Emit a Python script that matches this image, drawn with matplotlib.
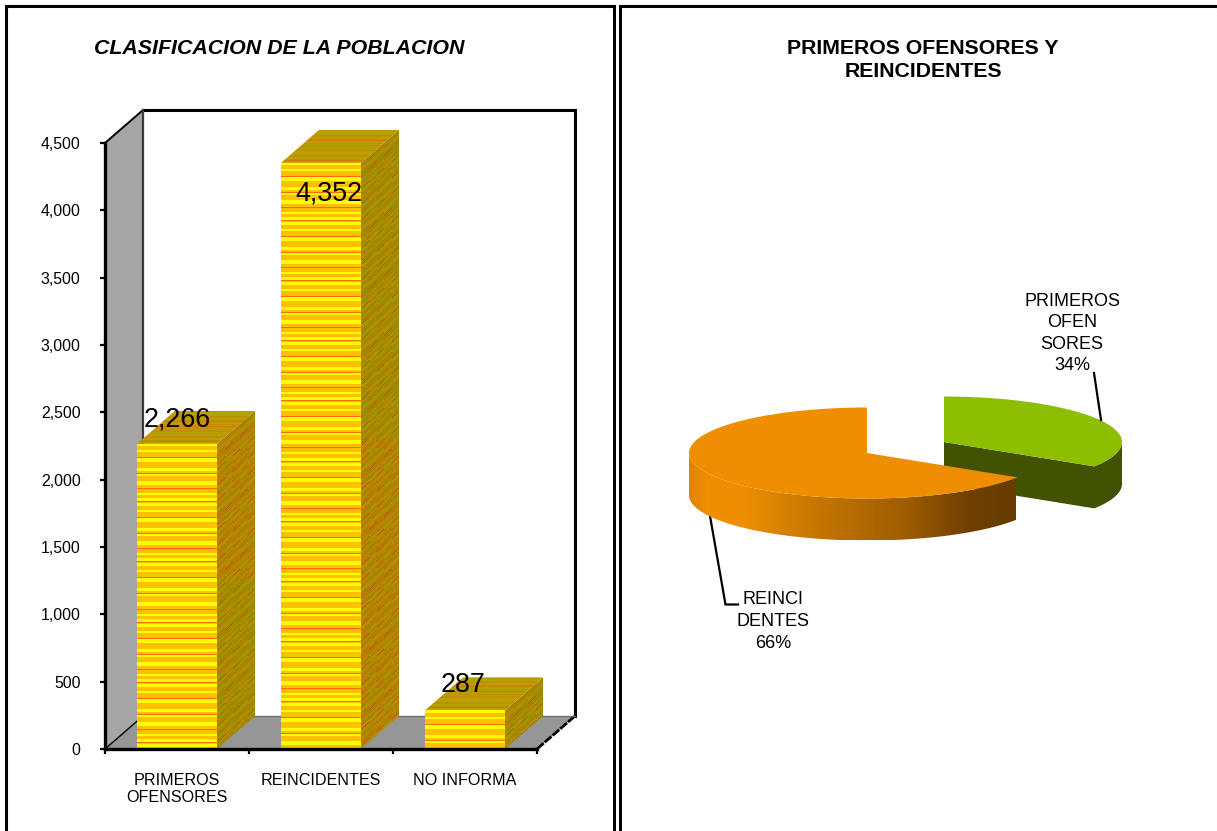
#!/usr/bin/env python3
"""Two panel chart: 3D look bars of the population and an exploded 3D look pie."""

import matplotlib

matplotlib.use("Agg")

import matplotlib.pyplot as plt
import numpy as np
from matplotlib.colors import to_rgb
from matplotlib.patches import Polygon
from matplotlib.ticker import StrMethodFormatter

CATEGORIES = ["PRIMEROS\nOFENSORES", "REINCIDENTES", "NO INFORMA"]
VALUES = [2266, 4352, 287]
Y_TICKS = [0, 500, 1000, 1500, 2000, 2500, 3000, 3500, 4000, 4500]
BAR_TITLE = "CLASIFICACION DE LA POBLACION"

PIE_TITLE = "PRIMEROS OFENSORES Y\nREINCIDENTES"
PIE_LABELS = ["PRIMEROS\nOFEN\nSORES\n34%", "REINCI\nDENTES\n66%"]
PIE_SHARES = [34, 66]

W, H = 1217, 831
FONT = "Liberation Sans"

# bar panel geometry, in pixels of the figure
PLOT_L, PLOT_R, PLOT_T, PLOT_B = 105, 537, 143, 749
DEPTH_PX = (38, 33)
BAR_WIDTH = 0.556

# pie geometry, in pixels of the figure
PIE_RX, PIE_RY, PIE_DEPTH = 178, 45.5, 42
PIE_CENTERS = [(944, 442), (867, 453)]

BAND_PATTERN = "YYYOOOOYYOOOOORYYYYOOOOOOYYYOORYYOOOOOYYYYOOOROOOOYYOOOYYYRO"
FRONT_COLORS = {"Y": "#ffff00", "O": "#ffc000", "R": "#ff6a00"}
TOP_COLORS = {"Y": "#c09000", "O": "#b8a000", "R": "#d07800"}
SIDE_COLORS = {"Y": "#b09400", "O": "#b07800", "R": "#c05000"}
ORANGE_STOPS = [(689, "#dd8300"), (705, "#ee8e00"), (745, "#ee8e00"), (803, "#cc7a00"),
                (903, "#a05e00"), (970, "#703f00"), (1016, "#663c00")]


def band_rgb(palette, index):
    return np.array([to_rgb(palette[BAND_PATTERN[i % len(BAND_PATTERN)]]) for i in index])


def textured(ax, image, extent, verts):
    im = ax.imshow(image, extent=extent, aspect="auto", interpolation="nearest", zorder=3)
    clip = Polygon(verts, closed=True, transform=ax.transData, fill=False, edgecolor="none",
                   clip_on=False)
    ax.add_patch(clip)
    im.set_clip_path(clip)
    im.set_clip_box(ax.figure.bbox)


def draw_bar(ax, x, value, dx, dy, px_per_value):
    left, right = x - BAR_WIDTH / 2, x + BAR_WIDTH / 2
    rows = max(int(round(value * px_per_value)), 1)
    side_rows = int(round((value + dy) * px_per_value))

    # front face
    front = band_rgb(FRONT_COLORS, np.arange(rows))[:, None, :]
    textured(ax, front, (left, right, 0, value),
             [(left, 0), (right, 0), (right, value), (left, value)])

    # top face
    top = band_rgb(TOP_COLORS, np.arange(DEPTH_PX[1]) * 3)[:, None, :]
    textured(ax, top, (left, right + dx, value, value + dy),
             [(left, value), (right, value), (right + dx, value + dy), (left + dx, value + dy)])

    # side face, bands sheared along the depth and dithered
    cols = np.arange(DEPTH_PX[0])
    yy, xx = np.meshgrid(np.arange(side_rows), cols, indexing="ij")
    sheared = (yy + xx * DEPTH_PX[1] // DEPTH_PX[0]).ravel()
    side = band_rgb(SIDE_COLORS, sheared).reshape(side_rows, DEPTH_PX[0], 3)
    side[(yy + xx) % 2 == 0] = to_rgb("#a88c00")
    textured(ax, side, (right, right + dx, 0, value + dy),
             [(right, 0), (right + dx, dy), (right + dx, value + dy), (right, value)])


def plot_bars(fig):
    ax = fig.add_axes([PLOT_L / W, 1 - PLOT_B / H, (PLOT_R - PLOT_L) / W, (PLOT_B - PLOT_T) / H])
    ax.patch.set_alpha(0)
    xlim = (-0.5, len(CATEGORIES) - 0.5)
    ylim = (0, Y_TICKS[-1])
    px_per_value = (PLOT_B - PLOT_T) / Y_TICKS[-1]
    dx = DEPTH_PX[0] / ((PLOT_R - PLOT_L) / len(CATEGORIES))
    dy = DEPTH_PX[1] / px_per_value
    x0, x1, y1 = xlim[0], xlim[1], ylim[1]

    # side wall and floor
    ax.add_patch(Polygon([(x0, 0), (x0 + dx, dy), (x0 + dx, y1 + dy), (x0, y1)],
                         facecolor="#a6a6a6", edgecolor="none", zorder=1, clip_on=False))
    ax.add_patch(Polygon([(x0, 0), (x1, 0), (x1 + dx, dy), (x0 + dx, dy)],
                         facecolor="#969696", edgecolor="none", zorder=1, clip_on=False))
    ax.plot([x0 + dx, x1 + dx, x1 + dx], [y1 + dy, y1 + dy, dy], color="black",
            lw=2.2, zorder=2, clip_on=False, solid_joinstyle="miter")
    ax.plot([x0, x0 + dx], [y1, y1 + dy], color="black", lw=1.4, zorder=2, clip_on=False)
    ax.plot([x0 + dx, x0 + dx], [y1 + dy, dy], color="#3c3c3c", lw=1.6, zorder=2, clip_on=False)
    ax.plot([x0, x0 + dx], [0, dy], color="black", lw=1.0, zorder=2, clip_on=False)
    ax.plot([x1, x1 + dx], [0, dy], color="black", lw=2.0, ls=(0, (3.2, 0.5)), zorder=2, clip_on=False)
    ax.plot([x0 + dx, x1 + dx], [dy, dy], color="#707070", lw=1.0, zorder=2, clip_on=False)

    xs = np.arange(len(CATEGORIES))
    for x, value in zip(xs, VALUES):
        draw_bar(ax, x, value, dx, dy, px_per_value)

    label_offsets = [(0, 25), (8, -30), (-1.5, 26)]
    for x, value, off in zip(xs, VALUES, label_offsets):
        ax.annotate(f"{value:,}", (x, value), xytext=(off[0] * 0.72, off[1] * 0.72 - 0.7),
                    textcoords="offset points", ha="center", va="center",
                    fontsize=19.4, family=FONT, color="black", zorder=5)

    ax.set_xlim(xlim)
    ax.set_ylim(ylim)
    for name in ["top", "right"]:
        ax.spines[name].set_visible(False)
    for name in ["left", "bottom"]:
        ax.spines[name].set_linewidth(2.4)
        ax.spines[name].set_zorder(4)
    ax.set_yticks(Y_TICKS)
    ax.yaxis.set_major_formatter(StrMethodFormatter("{x:,.0f}"))
    ax.tick_params(axis="y", length=3.6, width=1.6, pad=14, labelsize=11.4)
    ax.set_xticks(xs)
    ax.set_xticklabels(CATEGORIES, linespacing=1.2)
    ax.tick_params(axis="x", which="major", length=0, pad=17, labelsize=11.6)
    ax.set_xticks(np.arange(len(CATEGORIES) + 1) - 0.5, minor=True)
    ax.tick_params(axis="x", which="minor", length=3.6, width=1.6)
    for label in ax.get_xticklabels() + ax.get_yticklabels():
        label.set_family(FONT)


def ellipse_arc(center, start, stop, drop=0, n=120):
    t = np.radians(np.linspace(start, stop, n))
    return np.column_stack([center[0] + PIE_RX * np.cos(t),
                            center[1] + drop - PIE_RY * np.sin(t)])


def plot_pie(ax):
    # slices run from twelve o'clock: the reoffenders go counterclockwise for their share
    sweep = 3.6 * PIE_SHARES[1] * 100 / sum(PIE_SHARES)
    split = 90 + sweep - 360
    green_c, orange_c = PIE_CENTERS

    # green side, with the cut face seen from the front
    rim = ellipse_arc(green_c, split, 0)
    side = np.vstack([[green_c], rim, rim[::-1] + [0, PIE_DEPTH], [(green_c[0], green_c[1] + PIE_DEPTH)]])
    ax.add_patch(Polygon(side, facecolor="#415200", edgecolor="none", zorder=2))
    top = np.vstack([[green_c], ellipse_arc(green_c, split, 90)])
    ax.add_patch(Polygon(top, facecolor="#8dbe00", edgecolor="none", zorder=3))

    # orange side with its gradient
    rim = ellipse_arc(orange_c, 180, 360 + split)
    side = np.vstack([rim, rim[::-1] + [0, PIE_DEPTH]])
    cols = np.arange(ORANGE_STOPS[0][0], ORANGE_STOPS[-1][0] + 1)
    stops_x = [s[0] for s in ORANGE_STOPS]
    stops_rgb = np.array([to_rgb(s[1]) for s in ORANGE_STOPS])
    grad = np.column_stack([np.interp(cols, stops_x, stops_rgb[:, i]) for i in range(3)])[None, :, :]
    textured(ax, grad, (cols[0], cols[-1], side[:, 1].max(), side[:, 1].min()), side)
    top = np.vstack([[orange_c], ellipse_arc(orange_c, 90, 90 + sweep, n=240)])
    ax.add_patch(Polygon(top, facecolor="#ee8e00", edgecolor="none", zorder=4))

    ax.plot([1094, 1101], [373, 420], color="black", lw=1.6, zorder=5)
    ax.plot([710, 725.5, 738], [516, 604.5, 604.5], color="black", lw=1.6, zorder=1,
            solid_joinstyle="miter")

    ax.text(1072, 333.5, PIE_LABELS[0], ha="center", va="center", fontsize=13, family=FONT,
            linespacing=1.35)
    ax.text(773, 621.5, PIE_LABELS[1], ha="center", va="center", fontsize=13, family=FONT,
            linespacing=1.35)


def main():
    fig = plt.figure(figsize=(W / 100, H / 100), dpi=100)
    back = fig.add_axes([0, 0, 1, 1])
    back.axis("off")

    # panel frames
    for xs, ys, color, lw in [
        ([6, 6, 613.8, 613.8], [H, 5.5, 5.5, H], "black", 2.2),
        ([620, 620, W], [H, 5.5, 5.5], "black", 2.2),
        ([1216.5, 1216.5], [7, H], "#dddddd", 0.8),
    ]:
        back.plot(xs, ys, color=color, lw=lw, solid_joinstyle="miter", zorder=1)

    back.text(279, 48, BAR_TITLE, ha="center", va="center", fontsize=15.4, family=FONT,
              weight="bold", style="italic")
    back.text(923, 60, PIE_TITLE, ha="center", va="center", fontsize=15.3, family=FONT,
              weight="bold", linespacing=1.22)

    plot_pie(back)
    back.set_xlim(0, W)
    back.set_ylim(H, 0)

    plot_bars(fig)
    fig.savefig("out.png", dpi=100)
    plt.close(fig)


if __name__ == "__main__":
    main()
